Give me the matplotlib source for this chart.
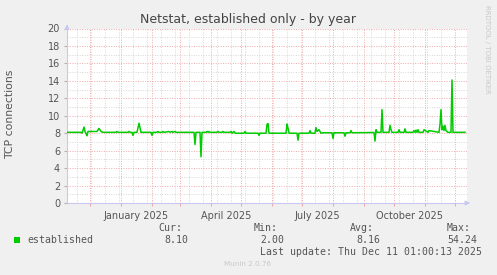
import numpy as np
import pandas as pd
import matplotlib
matplotlib.use("Agg")
import matplotlib.pyplot as plt
import matplotlib.dates as mdates
from matplotlib.patches import Rectangle

W, H = 497, 275

# data: vertices of the daily "established" line (date, TCP connections)
dates = ["2024-11-08", "2024-11-22", "2024-11-23", "2024-11-25", "2024-11-26", "2024-11-28",
         "2024-11-29", "2024-12-08", "2024-12-10", "2024-12-12", "2024-12-14",
         "2024-12-27", "2024-12-28", "2024-12-29", "2025-01-08", "2025-01-09", "2025-01-10",
         "2025-01-12", "2025-01-13", "2025-01-14", "2025-01-17", "2025-01-19", "2025-01-21",
         "2025-01-31", "2025-02-01", "2025-02-02", "2025-02-06", "2025-02-07", "2025-02-08",
         "2025-02-11", "2025-02-12", "2025-02-13",
         "2025-02-18", "2025-02-19", "2025-02-21", "2025-02-22", "2025-02-24", "2025-02-25",
         "2025-03-15", "2025-03-16", "2025-03-17", "2025-03-21", "2025-03-22", "2025-03-23",
         "2025-03-27", "2025-03-28", "2025-03-29", "2025-03-30", "2025-03-31",
         "2025-04-07", "2025-04-08", "2025-04-09", "2025-04-12", "2025-04-13", "2025-04-14",
         "2025-04-20", "2025-04-21", "2025-04-22", "2025-04-24", "2025-04-25",
         "2025-05-04", "2025-05-05", "2025-05-06",
         "2025-05-18", "2025-05-19", "2025-05-20",
         "2025-05-26", "2025-05-27", "2025-05-28", "2025-05-29",
         "2025-06-15", "2025-06-16", "2025-06-17", "2025-06-18",
         "2025-06-26", "2025-06-27", "2025-06-28",
         "2025-07-08", "2025-07-09", "2025-07-10",
         "2025-07-14", "2025-07-15", "2025-07-16", "2025-07-18", "2025-07-20", "2025-07-22",
         "2025-07-31", "2025-08-01", "2025-08-02",
         "2025-08-12", "2025-08-13", "2025-08-14",
         "2025-08-18", "2025-08-19", "2025-08-20",
         "2025-09-11", "2025-09-12", "2025-09-13", "2025-09-14",
         "2025-09-18", "2025-09-19", "2025-09-20",
         "2025-09-26", "2025-09-27", "2025-09-28", "2025-09-29",
         "2025-10-05", "2025-10-06", "2025-10-07",
         "2025-10-11", "2025-10-12", "2025-10-13",
         "2025-10-20", "2025-10-21", "2025-10-22", "2025-10-23", "2025-10-24", "2025-10-25",
         "2025-10-26", "2025-10-30", "2025-10-31", "2025-11-04", "2025-11-05",
         "2025-11-15", "2025-11-16", "2025-11-17", "2025-11-18", "2025-11-19", "2025-11-20",
         "2025-11-21", "2025-11-22", "2025-11-24",
         "2025-11-27", "2025-11-28", "2025-11-29", "2025-12-11"]
values = [8.10, 8.10, 8.00, 8.70, 8.20, 7.70,
          8.20, 8.20, 8.55, 8.20, 8.10,
          8.10, 8.20, 8.10, 8.10, 8.20, 8.10,
          8.10, 7.75, 8.10, 8.10, 9.15, 8.10,
          8.10, 7.75, 8.10, 8.10, 8.20, 8.10,
          8.10, 8.20, 8.10,
          8.20, 8.10, 8.20, 8.10, 8.20, 8.10,
          8.10, 6.70, 8.10, 8.10, 5.30, 8.10,
          8.10, 8.20, 8.10, 8.20, 8.10,
          8.10, 8.20, 8.10, 8.10, 8.20, 8.10,
          8.10, 8.20, 8.00, 8.20, 8.00,
          8.00, 8.20, 8.00,
          8.00, 7.75, 8.00,
          8.00, 9.00, 9.10, 8.00,
          8.00, 9.05, 8.60, 8.00,
          8.00, 7.20, 8.00,
          8.00, 8.30, 8.00,
          8.00, 8.65, 8.20, 8.40, 8.00, 8.05,
          8.05, 7.40, 8.05,
          8.05, 7.65, 8.05,
          8.05, 8.30, 8.05,
          8.08, 7.10, 8.40, 8.10,
          8.10, 10.70, 8.10,
          8.10, 8.90, 8.40, 8.10,
          8.10, 8.40, 8.10,
          8.10, 8.50, 8.10,
          8.10, 8.30, 8.10, 8.35, 8.10, 8.40,
          8.10, 8.10, 8.40, 8.10, 8.30,
          8.10, 9.00, 10.70, 8.40, 8.80, 8.30,
          8.90, 8.30, 8.10,
          8.10, 14.10, 8.10, 8.10]

legend_name = "established"
stat_names = ["Cur:", "Min:", "Avg:", "Max:"]
stat_values = ["8.10", "2.00", "8.16", "54.24"]
last_update = "Last update: Thu Dec 11 01:00:13 2025"
month_labels = ["2025-01-16", "2025-04-16", "2025-07-16", "2025-10-16"]

x_start = pd.Timestamp("2024-11-08")
x_end = x_start + pd.Timedelta(days=400)

GREEN = "#00cc00"
TXT = "#555555"
MGRID = "#eeaaaa"
GRID = "#d6d6d6"
AXIS = "#c8c8f0"


def px(x, y):
    return x / W, 1 - y / H


fig = plt.figure(figsize=(W / 100, H / 100), dpi=100)
fig.patch.set_facecolor("#f0f0f0")
ax = fig.add_axes([67 / W, 72 / H, 400 / W, 174.5 / H])
ax.set_facecolor("white")

t = pd.to_datetime(dates)
ax.plot(t, values, color=GREEN, lw=1.1, zorder=3)

ax.set_xlim(x_start, x_end)
ax.set_ylim(0, 20)

# grid: minor every 1 / two weeks (gray), major every 2 / month (red)
ax.set_yticks(np.arange(0, 21, 2))
ax.set_yticks(np.arange(0, 21, 1), minor=True)
ax.xaxis.set_major_locator(mdates.MonthLocator())
ax.xaxis.set_minor_locator(mdates.WeekdayLocator(byweekday=mdates.MO, interval=2))
ax.xaxis.set_major_formatter(plt.NullFormatter())

ax.grid(which="minor", color=GRID, lw=0.7, ls=(0, (1, 1.5)), zorder=1)
ax.grid(which="major", color=MGRID, lw=0.7, ls=(0, (1, 1.5)), zorder=2)
ax.set_axisbelow(True)

for s in ["top", "right"]:
    ax.spines[s].set_visible(False)
ax.spines["left"].set_color(AXIS)
ax.spines["bottom"].set_color(AXIS)

ax.tick_params(axis="y", which="major", length=2, width=0.8, color="#b0b0b0",
               labelsize=7, labelcolor=TXT, pad=3)
ax.tick_params(axis="y", which="minor", length=0)
ax.tick_params(axis="x", which="major", length=2, width=0.8, color=MGRID, pad=4)
ax.tick_params(axis="x", which="minor", length=0)

# month labels centred half a month after each third month
for lab in month_labels:
    d = pd.Timestamp(lab)
    ax.text(d, -0.075, d.strftime("%B %Y"), transform=ax.get_xaxis_transform(),
            ha="center", va="center", fontsize=7, color=TXT)

# axis arrows
ax.annotate("", xy=(1.015, 0), xytext=(0.99, 0), xycoords="axes fraction",
            arrowprops=dict(arrowstyle="-|>", color=AXIS, lw=0.8, mutation_scale=7),
            annotation_clip=False)
ax.annotate("", xy=(0, 1.04), xytext=(0, 0.99), xycoords="axes fraction",
            arrowprops=dict(arrowstyle="-|>", color=AXIS, lw=0.8, mutation_scale=7),
            annotation_clip=False)

fig.text(*px(248, 19), "Netstat, established only - by year", ha="center", va="center",
         fontsize=9, color="#444444")
fig.text(*px(10, 114), "TCP connections", rotation=90, ha="center", va="center",
         fontsize=7.8, color=TXT)
fig.text(*px(487, 5), "RRDTOOL / TOBI OETIKER", rotation=270, ha="center", va="top",
         fontsize=5, color="#c8c8c8")

# legend
fig.add_artist(Rectangle(px(14, 243), 6 / W, 6 / H, transform=fig.transFigure,
                         facecolor=GREEN, edgecolor="none"))
mono = dict(family="DejaVu Sans Mono", fontsize=7.1, color=TXT, va="center")
fig.text(*px(27, 240), legend_name, ha="left", **mono)
for name, xe in zip(stat_names, [182, 278, 374, 471]):
    fig.text(*px(xe, 228), name, ha="right", **mono)
for val, xe in zip(stat_values, [188, 284, 380, 477]):
    fig.text(*px(xe, 240), val, ha="right", **mono)
fig.text(*px(482, 252), last_update, ha="right", **mono)
fig.text(*px(248, 264), "Munin 2.0.76", ha="center", va="center", fontsize=5.2,
         color="#c8c8c8")

fig.savefig("out.png", dpi=100, facecolor=fig.get_facecolor())
